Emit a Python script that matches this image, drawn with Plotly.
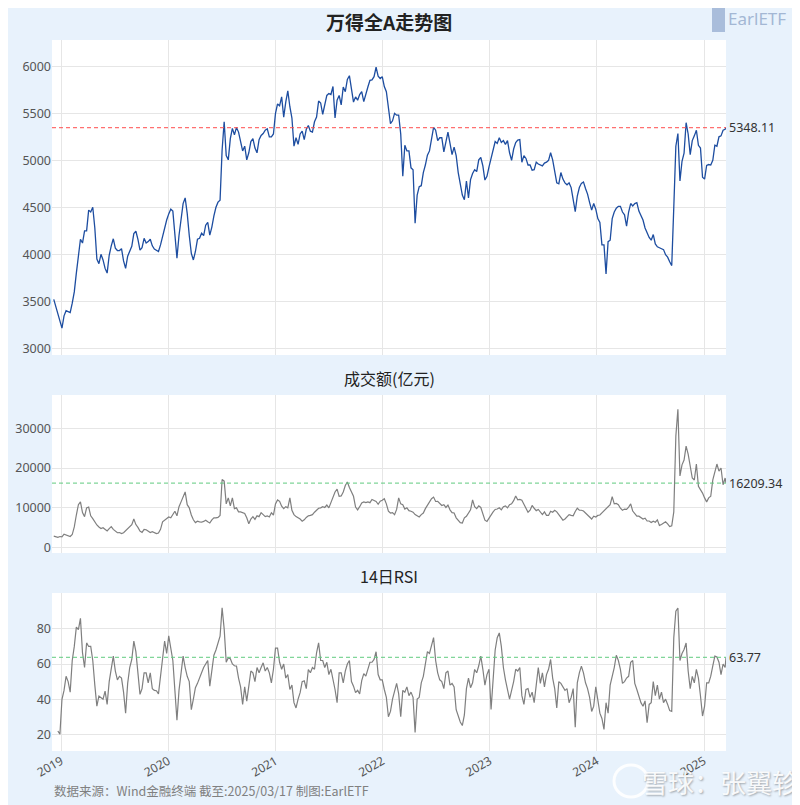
import pandas as pd
import plotly.graph_objects as go
from plotly.subplots import make_subplots

# ---------------- data (weekly readings from the picture, Fridays from 2018-12-07) ----------------
START = "2018-12-07"
LAST_DATE = "2025-03-17"

index_weekly = [
    3520, 3440, 3380, 3285, 3215, 3345, 3400, 3390, 3380, 3480,
    3600, 3800, 4010, 4160, 4120, 4250, 4250, 4470, 4450, 4500,
    4280, 3950, 3900, 4000, 3940, 3850, 3800, 3990, 4090, 4165,
    4065, 4040, 4040, 4060, 3930, 3850, 3980, 4030, 4085, 4220,
    4245, 4160, 4045, 4070, 4170, 4120, 4135, 4160, 4090, 4055,
    4045, 4030, 4100, 4200, 4270, 4365, 4430, 4480, 4460, 4190,
    3960, 4200, 4380, 4540, 4600, 4435, 4200, 4010, 3940, 4030,
    4160, 4170, 4225, 4200, 4310, 4340, 4205, 4290, 4410, 4500,
    4555, 4575, 5110, 5410, 5050, 5005, 5230, 5340, 5270, 5350,
    5300, 5215, 5100, 5150, 5005, 5080, 5200, 5230, 5130, 5080,
    5220, 5265, 5285, 5320, 5335, 5250, 5250, 5280, 5500, 5600,
    5580, 5675, 5460, 5620, 5740, 5570, 5450, 5150, 5240, 5170,
    5280, 5310, 5220, 5330, 5370, 5310, 5300, 5410, 5460, 5630,
    5610, 5490, 5605, 5690, 5710, 5700, 5785, 5450, 5640, 5690,
    5590, 5780, 5730, 5860, 5900, 5780, 5620, 5675, 5640, 5700,
    5730, 5625, 5720, 5780, 5850, 5855, 5890, 5990, 5895, 5870,
    5890, 5785, 5730, 5560, 5390, 5420, 5500, 5480, 5480, 5280,
    4830, 5160, 5100, 5100, 4920, 4900, 4330, 4630, 4720, 4730,
    4870, 4950, 5055, 5100, 5220, 5350, 5320, 5210, 5240, 5240,
    5090, 5200, 5300, 5180, 5060, 5140, 5050, 4870, 4740, 4630,
    4580, 4780, 4600, 4795, 4860, 4900, 4880, 5005, 5030, 4940,
    4790, 4830, 4930, 5020, 5140, 5200, 5180, 5240, 5190, 5210,
    5170, 5210, 5080, 5000, 5120, 5190, 5215, 5220, 4980, 5050,
    5020, 4950, 4950, 4895, 4900, 4980, 4960, 4950, 4940, 4970,
    4980, 5000, 5080, 5005, 4870, 4760, 4750, 4870, 4800, 4760,
    4740, 4760, 4710, 4600, 4455, 4620, 4710, 4755, 4770, 4700,
    4640, 4550, 4470, 4540, 4480, 4380, 4340, 4100, 4100, 3790,
    4135, 4150, 4380, 4450, 4490, 4510, 4510, 4450, 4420, 4300,
    4450, 4540, 4515, 4540, 4550, 4460, 4420, 4365, 4280, 4230,
    4180, 4150, 4210, 4110, 4080, 4070, 4060, 4050, 3995, 3970,
    3920, 3880, 4500, 5150, 5285, 4780, 4990, 5075, 5400, 5280,
    5060, 5210, 5260, 5320, 5160, 5130, 4820, 4800, 4945, 4955,
    4950, 5000, 5160, 5150, 5250, 5260, 5320, 5330,
]
index_last = 5348.11

amount_weekly = [
    2900, 2700, 2600, 2800, 2700, 3400, 3200, 3000, 2800, 3300,
    5200, 8200, 10800, 11500, 8800, 7800, 10000, 10200, 8000, 7300,
    6400, 5700, 5200, 4800, 5000, 4600, 4200, 4800, 5300, 4600,
    4100, 3750, 3800, 3550, 3750, 4300, 4800, 5350, 5800, 7200,
    5800, 5100, 4150, 3850, 4600, 4500, 4150, 3800, 4000, 3800,
    3550, 3700, 4600, 6500, 6900, 7500, 7700, 7500, 8200, 9150,
    8000, 10300, 11500, 12900, 14000, 10800, 10000, 8200, 7000, 6300,
    6650, 6500, 6400, 6600, 6900, 6500, 6200, 7000, 7500, 7500,
    7600, 8100, 17100, 16700, 11000, 12500, 10500, 12500, 9800, 10000,
    9000, 9000, 8700, 8600, 7500, 6000, 7200, 7800, 7100, 8000,
    7800, 8800, 8300, 7800, 8000, 7700, 8750, 8200, 11000, 12000,
    11650, 10400, 9800, 10300, 10000, 12500, 9400, 8300, 7800, 7500,
    7200, 6650, 7000, 7600, 8000, 8100, 8300, 8900, 9400, 9900,
    10000, 10300, 10100, 10700, 10000, 11500, 12700, 14000, 14700, 12900,
    13000, 14000, 15600, 16500, 15100, 14000, 12900, 10200, 9500, 10300,
    11250, 11500, 11300, 11500, 11300, 12100, 11800, 11600, 10900, 11650,
    11900, 12300, 11000, 9150, 8700, 8800, 8300, 9600, 12500, 11000,
    10800, 9700, 10000, 9300, 9150, 8900, 8300, 8000, 7700, 8300,
    8700, 9800, 10700, 11250, 12300, 12700, 11600, 11650, 11200, 10600,
    10800, 10100, 10700, 9500, 8800, 8700, 7500, 7000, 6300, 6200,
    7500, 7900, 8700, 9500, 12000, 10300, 9800, 10500, 10100, 8700,
    6900, 6600, 7500, 8300, 9000, 9600, 9700, 10000, 9500, 10300,
    10500, 10000, 10800, 11000, 11800, 13000, 12000, 12100, 11900, 10900,
    9900, 8900, 9400, 10600, 9900, 9300, 9600, 8900, 8300, 9000,
    8100, 8100, 9150, 8900, 9400, 9000, 8300, 7800, 6900, 7200,
    7900, 8300, 8100, 8000, 9100, 9900, 9400, 9400, 9200, 8700,
    8250, 7800, 7200, 7900, 7700, 8100, 8200, 8750, 9300, 9800,
    10300, 10800, 12800, 11000, 11100, 10800, 9900, 9400, 9700, 9600,
    10200, 11000, 9200, 8400, 7900, 7900, 7500, 7200, 7400, 6700,
    6700, 6300, 6650, 6400, 7000, 5600, 5800, 6200, 6500, 6000,
    5300, 5500, 9000, 28000, 34750, 18000, 20800, 22000, 25500, 23500,
    20000, 17500, 17000, 21000, 15400, 14600, 13700, 12500, 11500, 12500,
    12900, 17000, 19000, 21000, 19200, 20000, 15800, 17500,
]
amount_last = 16209.34

rsi_weekly = [
    None, None, 21.9, 20, 39.9, 45, 53, 50, 44, 62,
    70, 81, 79.6, 86, 66.4, 58, 72, 70, 70, 62,
    48, 36, 41.8, 41, 40, 44.6, 37, 50, 58, 64.5,
    56, 51, 53, 52, 44, 32, 49, 58, 62.6, 73,
    67, 54, 42.7, 46, 55, 55, 49.3, 55, 46, 45,
    44.8, 43, 55, 63, 73, 66, 76, 70, 62, 45,
    28, 45, 54, 64.5, 58, 53, 50, 34, 40, 46.5,
    49, 52.5, 55, 58, 60.5, 62, 47.4, 57, 65, 68,
    72, 75.8, 92, 80, 61, 63.5, 63, 60, 59, 58.8,
    52, 47, 37, 47, 38.9, 49, 56, 55, 50, 58,
    55, 58, 60.7, 56, 58, 55, 49.3, 57, 69, 69,
    61, 57, 60, 52, 54, 45.5, 48, 38, 35, 40,
    43.7, 50, 50.5, 46, 56.9, 55, 58, 57, 66.4, 72,
    62, 62, 58, 61, 54, 57, 52, 45.5, 38, 55,
    55, 49.3, 56, 60, 62, 50, 47.4, 43.7, 45, 43,
    50.5, 54.5, 53.1, 56.5, 61, 61, 62.6, 67, 54, 51,
    51, 45.5, 41, 30, 33, 40, 44, 49, 43, 30,
    45, 44, 47, 42, 44, 41, 21, 40, 41, 49.3,
    53, 61, 67, 66, 71, 75, 62, 55, 51, 50,
    46, 55, 56, 48, 49, 47, 34, 30, 27, 25,
    31, 46, 52, 46.5, 49.3, 56.9, 55, 59, 64.5, 57,
    48, 54, 57, 34.2, 52, 68, 75, 77.7, 70, 58,
    51, 45.5, 40, 45, 50, 57, 56, 58, 42, 37,
    45.5, 46, 41, 44, 38, 48, 58, 49, 55, 47,
    54, 57, 62.6, 52, 46, 35, 50, 49, 47, 45,
    46, 38, 41, 46, 24, 49.3, 55, 58.8, 55, 49.3,
    46, 41, 33, 36, 47, 40, 32, 29, 22.8, 38,
    32, 48, 53, 58, 65, 62, 56.9, 49, 50, 52,
    53, 61, 62, 49, 45.5, 42, 38, 36, 39, 26.6,
    37, 38, 50, 42, 48, 40, 44, 38, 40, 37,
    33.5, 33, 75, 90, 91.9, 62, 66, 68.3, 72, 56,
    46, 53, 49.3, 57, 52, 41.8, 30.4, 36, 49.3, 49.3,
    53.1, 59, 64.5, 64, 61, 54, 60, 58,
]
rsi_last = 63.77

year_ticks = ["2019", "2020", "2021", "2022", "2023", "2024", "2025"]

TITLE = "万得全A走势图"
SUB2 = "成交额(亿元)"
SUB3 = "14日RSI"
FOOTER = "数据来源：Wind金融终端 截至:2025/03/17 制图:EarlETF"
LOGO = "EarlETF"
WATERMARK = "雪球：张翼轸"


def dates_for(vals):
    d = list(pd.date_range(START, periods=len(vals), freq="7D"))
    return d + [pd.Timestamp(LAST_DATE)]


FONT = "Noto Sans, Noto Sans CJK SC, sans-serif"
CJK = "Noto Sans CJK SC, Noto Sans, sans-serif"

fig = make_subplots(rows=3, cols=1, shared_xaxes=True)

fig.add_trace(go.Scatter(x=dates_for(index_weekly), y=index_weekly + [index_last],
                         mode="lines", line=dict(color="#1d4da0", width=1.3),
                         hoverinfo="skip"), row=1, col=1)
fig.add_trace(go.Scatter(x=dates_for(amount_weekly), y=amount_weekly + [amount_last],
                         mode="lines", line=dict(color="#7f7f7f", width=1.2),
                         hoverinfo="skip"), row=2, col=1)
fig.add_trace(go.Scatter(x=dates_for(rsi_weekly), y=rsi_weekly + [rsi_last],
                         mode="lines", line=dict(color="#7f7f7f", width=1.2),
                         hoverinfo="skip", connectgaps=False), row=3, col=1)

ref_lines = [("y", index_last, "#ff4d4d"), ("y2", amount_last, "#62cc80"), ("y3", rsi_last, "#62cc80")]
for yref, val, col in ref_lines:
    fig.add_shape(type="line", xref="x domain", x0=0, x1=1, yref=yref, y0=val, y1=val,
                  line=dict(color=col, width=1.1, dash="4px,3px"), layer="above", opacity=0.8)
    fig.add_annotation(x=LAST_DATE, xref="x", y=val, yref=yref, text=f"{val:.2f}",
                       showarrow=False, xanchor="left", yanchor="middle", xshift=1,
                       font=dict(family=FONT, size=12.5, color="#333333"))

grid = "#e6e6e6"
xr = ["2018-12-01", LAST_DATE]
tickvals = [pd.Timestamp(y + "-01-01") for y in year_ticks]
for i, ax in enumerate(["xaxis", "xaxis2", "xaxis3"]):
    fig.layout[ax].update(range=xr, tickvals=tickvals, ticktext=year_ticks,
                          showgrid=True, gridcolor=grid, gridwidth=1, zeroline=False,
                          showline=False, ticks="",
                          showticklabels=(i == 2), tickangle=-30,
                          tickfont=dict(family=FONT, size=12, color="#555555"))

fig.layout.yaxis.update(domain=[0.557, 1.0], range=[2929, 6280], tickvals=[3000, 3500, 4000, 4500, 5000, 5500, 6000])
fig.layout.yaxis2.update(domain=[0.2785, 0.5007], range=[-1330, 38330], tickvals=[0, 10000, 20000, 30000])
fig.layout.yaxis3.update(domain=[0.0, 0.2222], range=[10.5, 100.4], tickvals=[20, 40, 60, 80])
for ax in ["yaxis", "yaxis2", "yaxis3"]:
    fig.layout[ax].update(showgrid=True, gridcolor=grid, gridwidth=1, zeroline=False,
                          tickformat="d", ticks="", showline=False, automargin=False,
                          tickfont=dict(family=FONT, size=12.5, color="#555555"))

# titles
fig.add_annotation(x=0.5, y=(751 - 21) / 711, xref="paper", yref="paper", text=f"<b>{TITLE}</b>",
                   showarrow=False, xanchor="center", yanchor="middle",
                   font=dict(family=CJK, size=19, color="#222222"))
fig.add_annotation(x=0.5, y=0.5246, xref="paper", yref="paper", text=SUB2,
                   showarrow=False, xanchor="center", yanchor="middle",
                   font=dict(family=CJK, size=16, color="#222222"))
fig.add_annotation(x=0.5, y=0.2461, xref="paper", yref="paper", text=SUB3,
                   showarrow=False, xanchor="center", yanchor="middle",
                   font=dict(family=CJK, size=16, color="#222222"))
fig.add_annotation(x=0.0, y=-0.0549, xref="paper", yref="paper", text=FOOTER,
                   showarrow=False, xanchor="left", yanchor="middle",
                   font=dict(family=CJK, size=12.5, color="#808080"))

# logo top-right
fig.add_shape(type="rect", xref="paper", yref="paper", x0=(712 - 52) / 674, x1=(725 - 52) / 674,
              y0=(751 - 32) / 711, y1=(751 - 8) / 711,
              fillcolor="#a9bddb", line=dict(width=0))
fig.add_annotation(x=(726 - 52) / 674, y=(751 - 18) / 711, xref="paper", yref="paper", text=LOGO,
                   showarrow=False, xanchor="left", yanchor="middle",
                   font=dict(family=FONT, size=17, color="#a3b7d4"))

# watermark bottom-right
fig.add_shape(type="circle", xref="paper", yref="paper",
              x0=(614 - 52) / 674, x1=(648 - 52) / 674,
              y0=(751 - 797) / 711, y1=(751 - 765) / 711,
              line=dict(color="rgba(255,255,255,0.9)", width=3))
fig.add_annotation(x=(720 - 52) / 674, y=(751 - 781) / 711, xref="paper", yref="paper",
                   text=WATERMARK, showarrow=False, xanchor="center", yanchor="middle",
                   font=dict(family=CJK, size=26, color="rgba(255,255,255,0.92)",
                             shadow="1px 1px 2px rgba(0,0,0,0.35)"))

# the page adds an 8px body margin, so the figure is 8px smaller and margins shifted
fig.update_layout(width=792, height=797, paper_bgcolor="#e8f2fc", plot_bgcolor="white",
                  showlegend=False, margin=dict(l=44, r=74, t=32, b=54, autoexpand=False),
                  font=dict(family=FONT))

fig.write_html("out.html")
